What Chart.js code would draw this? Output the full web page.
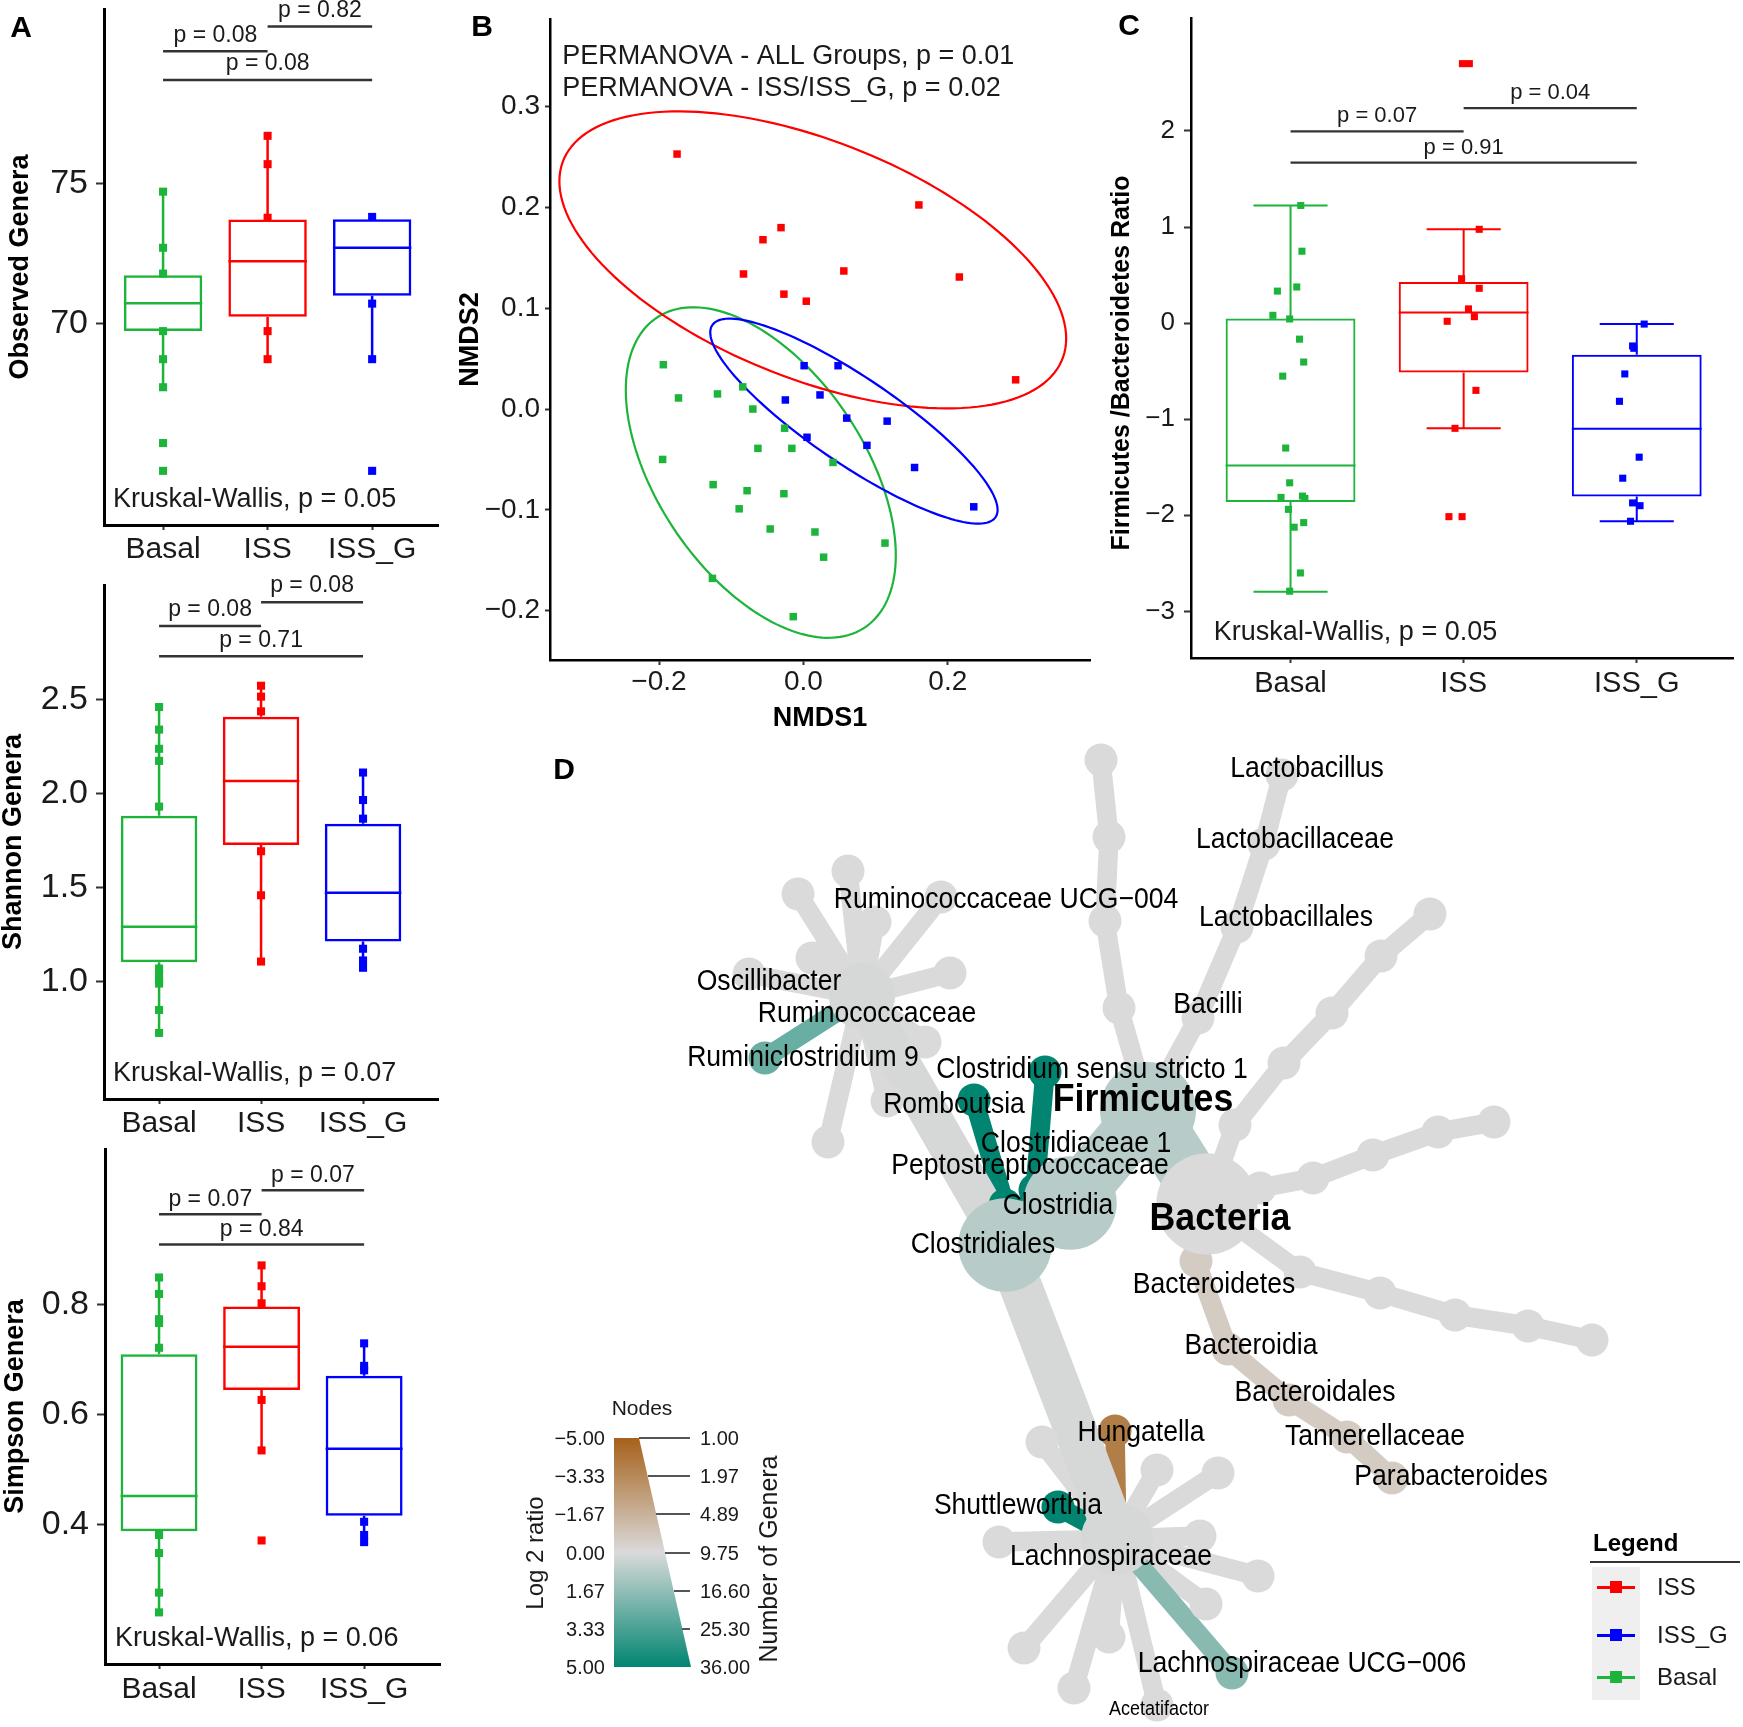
<!DOCTYPE html>
<html lang="en">
<head>
<meta charset="UTF-8" />
<meta name="viewport" content="width=device-width, initial-scale=1.0"/>
<title>Gut microbiota – diversity, NMDS, F/B ratio and heat tree</title>
<script src="https://cdn.jsdelivr.net/npm/chart.js"></script>
<style>
  body {
    margin: 0;
    width: 1743px;
    height: 1727px;
    position: relative;
    overflow: hidden;
    background: #fff;
    font-family: "Liberation Sans", Arial, sans-serif;
    color: #1a1a1a;
  }
  canvas { position: absolute; }
  .tag { position: absolute; font-size: 30px; font-weight: bold; color: #000; transform: translate(-50%, -50%); }
  .txt { position: absolute; white-space: nowrap; line-height: 1; }
  .rot { transform: translate(-50%, -50%) rotate(-90deg); }
</style>
</head>
<body>
  <canvas id="obs" width="450" height="570" style="left:0;top:0"></canvas>
  <canvas id="shannon" width="450" height="570" style="left:0;top:570px"></canvas>
  <canvas id="simpson" width="450" height="587" style="left:0;top:1140px"></canvas>
  <canvas id="nmds" width="650" height="740" style="left:450px;top:0"></canvas>
  <canvas id="ratio" width="643" height="720" style="left:1100px;top:0"></canvas>
  <canvas id="tree" width="1213" height="987" style="left:530px;top:740px"></canvas>

  <div class="tag" style="left:21px;top:27px">A</div>
  <div class="tag" style="left:482px;top:26px">B</div>
  <div class="tag" style="left:1129px;top:25px">C</div>
  <div class="tag" style="left:564px;top:769px">D</div>

  <div class="txt rot" style="left:1120px;top:363px;font-size:25px;font-weight:bold;color:#000">Firmicutes /Bacteroidetes Ratio</div>

  <div id="legends"></div>

<script>
// ---- shared ----
const groups = ['Basal', 'ISS', 'ISS_G'];
const groupColors = ['#1cb43a', '#ff0000', '#0000ff'];
const sigPairs = [[1, 2], [2, 3], [1, 3]];

// ---- A: Observed genera ----
const obsBasal = [74.71, 72.71, 71.79, 69.74, 68.74, 67.74, 65.75, 64.76];
const obsISS = [76.70, 75.69, 73.78, 69.74, 68.74];
const obsISSG = [73.81, 70.72, 68.74, 64.76];
const obsQ1 = [69.74, 70.25, 71.00];
const obsMed = [70.73, 72.23, 72.71];
const obsQ3 = [71.73, 73.72, 73.73];
const obsLo = [67.74, 68.74, 68.74];
const obsHi = [74.71, 76.70, 73.81];
const obsSigY = [79.71, 80.60, 78.69];
const obsSigP = ['p = 0.08', 'p = 0.82', 'p = 0.08'];
const obsKW = 'Kruskal-Wallis, p = 0.05';
const obsTicks = [70, 75];
const obsTickLabels = ['70', '75'];

// ---- A: Shannon ----
const shanBasal = [2.459, 2.339, 2.237, 2.173, 1.930, 1.07, 1.04, 1.01, 0.99, 0.850, 0.728];
const shanISS = [2.572, 2.514, 2.436, 1.693, 1.459, 1.107];
const shanISSG = [2.111, 1.965, 1.866, 1.175, 1.113, 1.074];
const shanQ1 = [1.103, 1.726, 1.214];
const shanMed = [1.292, 2.066, 1.473];
const shanQ3 = [1.881, 2.407, 1.839];
const shanLo = [0.728, 1.107, 1.074];
const shanHi = [2.459, 2.572, 2.111];
const shanSigY = [2.889, 3.016, 2.728];
const shanSigP = ['p = 0.08', 'p = 0.08', 'p = 0.71'];
const shanKW = 'Kruskal-Wallis, p = 0.07';
const shanTicks = [1.0, 1.5, 2.0, 2.5];
const shanTickLabels = ['1.0', '1.5', '2.0', '2.5'];

// ---- A: Simpson ----
const simpBasal = [0.850, 0.820, 0.774, 0.767, 0.722, 0.381, 0.348, 0.276, 0.240];
const simpISS = [0.872, 0.834, 0.803, 0.627, 0.535, 0.371];
const simpISSG = [0.730, 0.689, 0.681, 0.405, 0.381, 0.368];
const simpQ1 = [0.388, 0.645, 0.416];
const simpMed = [0.452, 0.724, 0.538];
const simpQ3 = [0.710, 0.797, 0.671];
const simpLo = [0.240, 0.535, 0.368];
const simpHi = [0.850, 0.872, 0.730];
const simpSigY = [0.965, 1.009, 0.910];
const simpSigP = ['p = 0.07', 'p = 0.07', 'p = 0.84'];
const simpKW = 'Kruskal-Wallis, p = 0.06';
const simpTicks = [0.4, 0.6, 0.8];
const simpTickLabels = ['0.4', '0.6', '0.8'];

// ---- B: NMDS ----
const nmdsBasalX = [-0.194, -0.173, -0.119, -0.084, -0.070, -0.026, -0.063, -0.016, 0.041, -0.195, -0.125, -0.078, -0.027, -0.089, -0.046, 0.016, 0.028, 0.113, -0.126, -0.014];
const nmdsBasalY = [0.044, 0.011, 0.015, 0.022, 0.000, -0.019, -0.039, -0.039, -0.053, -0.050, -0.075, -0.081, -0.084, -0.099, -0.119, -0.122, -0.147, -0.133, -0.168, -0.206];
const nmdsISSX = [-0.175, 0.160, -0.031, -0.056, -0.083, 0.056, 0.216, -0.027, 0.004, 0.294];
const nmdsISSY = [0.253, 0.2025, 0.180, 0.168, 0.134, 0.137, 0.131, 0.114, 0.107, 0.029];
const nmdsISSGX = [0.001, 0.048, -0.025, 0.023, 0.060, 0.116, 0.005, 0.088, 0.154, 0.236];
const nmdsISSGY = [0.043, 0.043, 0.009, 0.014, -0.009, -0.012, -0.028, -0.036, -0.058, -0.097];
// 95% ellipses: centre and two conjugate semi-diameters (Basal, ISS, ISS_G)
const ellCx = [-0.059, 0.013, 0.070];
const ellCy = [-0.063, 0.148, -0.012];
const ellUx = [0.187, 0.351, 0.199];
const ellUy = [-0.082, -0.078, -0.088];
const ellVx = [0, 0, 0];
const ellVy = [0.142, 0.125, 0.051];
const permanovaText = ['PERMANOVA - ALL Groups, p = 0.01', 'PERMANOVA - ISS/ISS_G, p = 0.02'];
const nmdsXTicks = [-0.2, 0, 0.2];
const nmdsXTickLabels = ['\u22120.2', '0.0', '0.2'];
const nmdsYTicks = [-0.2, -0.1, 0, 0.1, 0.2, 0.3];
const nmdsYTickLabels = ['\u22120.2', '\u22120.1', '0.0', '0.1', '0.2', '0.3'];

// ---- C: Firmicutes / Bacteroidetes ----
const fbBasal = [1.224, 0.748, 0.333, 0.376, 0.081, 0.043, -0.167, -0.405, -0.552, -1.300, -1.662, -1.814, -1.800, -1.824, -1.938, -2.124, -2.076, -2.600, -2.790];
const fbBasalJit = [0.059, 0.066, -0.076, 0.036, -0.102, -0.005, 0.052, 0.076, -0.045, -0.028, -0.005, -0.055, 0.069, 0.083, -0.012, 0.021, 0.076, 0.057, -0.005];
const fbISS = [0.976, 0.462, 0.362, 0.148, 0.067, 0.019, -0.700, -1.095, -2.014, -2.014, 2.700, 2.700];
const fbISSJit = [0.090, -0.012, 0.090, 0.028, 0.062, -0.095, 0.071, -0.050, -0.085, -0.009, -0.007, 0.033];
const fbISSG = [-0.010, -0.238, -0.262, -0.529, -0.814, -1.395, -1.614, -1.871, -1.900, -2.062];
const fbISSGJit = [0.043, -0.024, -0.017, -0.069, -0.100, 0.014, -0.081, -0.024, 0.019, -0.036];
const fbQ1 = [-1.862, -0.514, -1.805];
const fbMed = [-1.481, 0.110, -1.100];
const fbQ3 = [0.048, 0.429, -0.329];
const fbLo = [-2.795, -1.095, -2.062];
const fbHi = [1.224, 0.976, -0.010];
const fbSigY = [1.995, 2.238, 1.671];
const fbSigP = ['p = 0.07', 'p = 0.04', 'p = 0.91'];
const fbKW = 'Kruskal-Wallis, p = 0.05';
const fbTicks = [-3, -2, -1, 0, 1, 2];
const fbTickLabels = ['\u22123', '\u22122', '\u22121', '0', '1', '2'];

// ---- D: heat tree ----
const treeParent = [-1, 0, 1, 2, 3, 4, 4, 4, 4, 4, 4, 4, 4, 4, 4, 4, 3, 16, 3, 18, 3,
  20, 20, 20, 20, 20, 20, 20, 20, 20, 20, 20, 20, 20, 20,
  1, 35, 36, 37, 1, 39, 40, 41, 0, 43, 44, 45, 46, 0, 48, 49, 50, 51, 0, 53, 54, 55, 56, 0, 58, 59, 60, 61];
const treeLog2 = [0, 0.8, 0.8, 0.8, 0.1, 0, 0, 0, 0, 0, 0, 0, 0, 2.6, 0, 0, 5, 5, 5, 5, 0.1,
  0, -3.8, 0, 0, 0, 0, 0, 1.9, 0, 0, 0, 0, 0, 5,
  0, 0, 0, 0, 0, 0, 0, 0, 0, 0, 0, 0, 0, 0, 0, 0, 0, 0, 0, 0, 0, 0, 0, -0.6, -0.6, -0.6, -0.6, -0.6];
const ratioTicks = ['\u22125.00', '\u22123.33', '\u22121.67', '0.00', '1.67', '3.33', '5.00'];
const generaTicks = ['1.00', '1.97', '4.89', '9.75', '16.60', '25.30', '36.00'];
const groupLegend = ['ISS', 'ISS_G', 'Basal'];
const groupLegendColors = ['#ff0000', '#0000ff', '#1cb43a'];

// tree layout (layout units)
const treeX = [120.7, 114.8, 107.0, 100.5, 86.2, 74.9, 79.8, 84.8, 94.1, 87.5, 81.2, 95.0, 92.5, 76.5, 88.7, 82.8,
  100.5, 97.4, 103.5, 104.5, 111.7,
  104.2, 111.5, 115.7, 121.8, 120.0, 125.8, 120.6, 123.2, 115.7, 110.9, 107.4, 102.4, 99.9, 105.8,
  119.8, 123.7, 126.4, 128.2, 111.9, 110.5, 110.9, 110.1,
  123.5, 128.4, 133.2, 138.1, 143.0, 126.0, 131.3, 137.3, 143.8, 149.4,
  130.0, 138.0, 145.5, 152.8, 159.2, 119.6, 122.8, 128.9, 134.7, 139.2];
const treeY = [120.4, 111.0, 120.3, 124.5, 99.6, 97.4, 89.4, 87.1, 89.7, 92.2, 95.8, 97.3, 104.2, 105.8, 110.1, 114.2,
  120.5, 110.0, 119.0, 107.2, 153.9,
  144.2, 143.1, 147.0, 147.3, 153.6, 157.6, 160.4, 167.3, 170.5, 163.7, 168.8, 164.8, 154.2, 150.7,
  101.8, 92.7, 84.4, 77.5, 100.8, 92.1, 83.7, 76.0,
  112.5, 106.3, 101.3, 95.6, 91.4, 118.8, 117.8, 115.5, 113.2, 112.2,
  127.2, 129.3, 131.5, 132.6, 134.0, 126.1, 134.9, 140.0, 143.7, 147.8];
const treeLabelText = ['Lactobacillus', 'Lactobacillaceae', 'Ruminococcaceae UCG\u2212004', 'Lactobacillales',
  'Oscillibacter', 'Ruminococcaceae', 'Bacilli', 'Ruminiclostridium 9', 'Clostridium sensu stricto 1',
  'Romboutsia', 'Firmicutes', 'Clostridiaceae 1', 'Peptostreptococcaceae', 'Clostridia', 'Bacteria',
  'Clostridiales', 'Bacteroidetes', 'Bacteroidia', 'Bacteroidales', 'Hungatella', 'Tannerellaceae',
  'Parabacteroides', 'Shuttleworthia', 'Lachnospiraceae', 'Lachnospiraceae UCG\u2212006', 'Acetatifactor'];
const treeLabelX = [130.7, 129.5, 100.6, 128.6, 76.9, 86.7, 120.8, 80.3, 109.2, 95.4, 114.3, 107.6, 103.0, 105.8, 122.0,
  98.3, 121.4, 125.1, 131.5, 114.1, 137.5, 145.1, 101.8, 111.1, 130.2, 115.9];
const treeLabelY = [76.9, 84.0, 90.0, 91.8, 98.2, 101.4, 100.5, 105.8, 107.0, 110.5, 110.1, 114.4, 116.6, 120.6, 122.0,
  124.5, 128.5, 134.6, 139.3, 143.3, 143.7, 147.7, 150.6, 155.7, 166.4, 170.9];
const treeLabelKind = ['n', 'n', 'n', 'n', 'n', 'n', 'n', 'n', 'n', 'n', 'b', 'n', 'n', 'n', 'b',
  'n', 'n', 'n', 'n', 'n', 'n', 'n', 'n', 'n', 'n', 's'];

const FONT = '"Liberation Sans", Arial, sans-serif';
const INK = '#1a1a1a';
Chart.defaults.font.family = FONT;
Chart.defaults.color = INK;

// keep the plot area where the layout puts it (no extra room for edge tick labels)
function fixY(width) {
  return s => { s.width = width; s.paddingTop = 0; s.paddingBottom = 0; };
}
function fixX(height) {
  return s => { s.height = height; s.paddingLeft = 0; s.paddingRight = 0; };
}

function sigPlugin(o) {
  return {
    id: 'sig',
    afterDatasetsDraw(chart) {
      const { ctx, scales: { x, y } } = chart;
      ctx.save();
      ctx.strokeStyle = '#333';
      ctx.lineWidth = o.sigW;
      ctx.fillStyle = INK;
      ctx.font = o.pFont + 'px ' + FONT;
      ctx.textAlign = 'center';
      ctx.textBaseline = 'middle';
      sigPairs.forEach(([a, b], i) => {
        const py = y.getPixelForValue(o.sigY[i]);
        ctx.beginPath();
        ctx.moveTo(x.getPixelForValue(a), py);
        ctx.lineTo(x.getPixelForValue(b), py);
        ctx.stroke();
        ctx.fillText(o.sigP[i], x.getPixelForValue((a + b) / 2), py - o.pGap);
      });
      ctx.font = o.kwFont + 'px ' + FONT;
      ctx.textAlign = 'left';
      ctx.fillText(o.kw, x.getPixelForValue(o.kwX), y.getPixelForValue(o.kwY));
      ctx.restore();
    }
  };
}

function boxChart(id, o) {
  const datasets = [{
    type: 'bar', order: 3,
    data: groups.map((g, i) => ({ x: i + 1, y: [o.q1[i], o.q3[i]] })),
    backgroundColor: 'rgba(255,255,255,0)',
    borderColor: groupColors,
    borderWidth: o.lw,
    borderSkipped: false,
    barPercentage: 0.75,
    categoryPercentage: 1
  }];
  groups.forEach((g, i) => {
    const x = i + 1;
    const w = [{ x, y: o.lo[i] }, { x, y: o.q1[i] }, { x, y: null }, { x, y: o.q3[i] }, { x, y: o.hi[i] }];
    if (o.cap) {
      w.push({ x, y: null }, { x: x - o.cap, y: o.lo[i] }, { x: x + o.cap, y: o.lo[i] },
             { x, y: null }, { x: x - o.cap, y: o.hi[i] }, { x: x + o.cap, y: o.hi[i] });
    }
    datasets.push({ type: 'line', order: 2, data: w, borderColor: groupColors[i], borderWidth: o.lw, pointRadius: 0, spanGaps: false, fill: false });
    datasets.push({ type: 'line', order: 2, data: [{ x: x - 0.375, y: o.med[i] }, { x: x + 0.375, y: o.med[i] }],
      borderColor: groupColors[i], borderWidth: o.lw, pointRadius: 0, fill: false });
    datasets.push({ type: 'scatter', order: 1,
      data: o.points[i].map((v, k) => ({ x: x + (o.jitter ? o.jitter[i][k] : 0), y: v })),
      pointStyle: 'rect', pointRadius: o.pr, backgroundColor: groupColors[i], borderWidth: 0 });
  });

  const yScale = {
    type: 'linear', min: o.yMin, max: o.yMax, beginAtZero: false,
    afterBuildTicks: s => { s.ticks = o.yTicks.map(v => ({ value: v })); },
    afterFit: fixY(o.yW),
    ticks: { callback: (v, i) => o.yLabels[i], font: { size: o.yFont }, color: INK, padding: o.yPad },
    grid: { drawOnChartArea: false, tickLength: o.yTickLen, tickWidth: 2, tickColor: '#333' },
    border: { color: '#000', width: o.axisW }
  };
  if (o.yTitle) {
    yScale.title = { display: true, text: o.yTitle, color: '#000',
      font: { size: 27, weight: 'bold', lineHeight: 1 }, padding: { top: o.titlePad, bottom: 0 } };
  }

  new Chart(document.getElementById(id), {
    type: 'bar',
    data: { datasets },
    options: {
      responsive: false, animation: false, events: [],
      layout: { padding: { top: o.padTop, right: o.padRight, left: 0, bottom: 0 }, autoPadding: false },
      plugins: { legend: { display: false }, tooltip: { enabled: false } },
      scales: {
        x: {
          type: 'linear', min: o.xMin, max: o.xMax, offset: false,
          afterBuildTicks: s => { s.ticks = groups.map((g, i) => ({ value: i + 1 })); },
          afterFit: fixX(o.xH),
          ticks: { callback: (v, i) => groups[i], font: { size: o.xFont }, color: INK, padding: o.xPad, maxRotation: 0, autoSkip: false },
          grid: { drawOnChartArea: false, tickLength: 5, tickWidth: 2, tickColor: '#333', offset: false },
          border: { color: '#000', width: o.axisW }
        },
        y: yScale
      }
    },
    plugins: [sigPlugin(o)]
  });
}

boxChart('obs', {
  points: [obsBasal, obsISS, obsISSG], q1: obsQ1, med: obsMed, q3: obsQ3, lo: obsLo, hi: obsHi,
  sigY: obsSigY, sigP: obsSigP, kw: obsKW, kwX: 0.52, kwY: 63.74,
  yTicks: obsTicks, yLabels: obsTickLabels, yTitle: 'Observed Genera',
  xMin: 0.435, xMax: 3.63, yMin: 62.83, yMax: 81.22,
  padTop: 9, padRight: 12, xH: 45, yW: 104, titlePad: 7.5,
  lw: 2.5, axisW: 3, pr: 5.7, cap: 0, yFont: 34, xFont: 30, pFont: 23, kwFont: 27, pGap: 16, sigW: 2.5,
  yTickLen: 8, yPad: 8, xPad: 2
});

boxChart('shannon', {
  points: [shanBasal, shanISS, shanISSG], q1: shanQ1, med: shanMed, q3: shanQ3, lo: shanLo, hi: shanHi,
  sigY: shanSigY, sigP: shanSigP, kw: shanKW, kwX: 0.548, kwY: 0.51,
  yTicks: shanTicks, yLabels: shanTickLabels, yTitle: 'Shannon Genera',
  xMin: 0.46, xMax: 3.735, yMin: 0.377, yMax: 3.107,
  padTop: 15, padRight: 12, xH: 41, yW: 104, titlePad: 0,
  lw: 2.5, axisW: 3, pr: 5.7, cap: 0, yFont: 34, xFont: 30, pFont: 23, kwFont: 27, pGap: 16, sigW: 2.5,
  yTickLen: 8, yPad: 8, xPad: 2
});

boxChart('simpson', {
  points: [simpBasal, simpISS, simpISSG], q1: simpQ1, med: simpMed, q3: simpQ3, lo: simpLo, hi: simpHi,
  sigY: simpSigY, sigP: simpSigP, kw: simpKW, kwX: 0.571, kwY: 0.192,
  yTicks: simpTicks, yLabels: simpTickLabels, yTitle: 'Simpson Genera',
  xMin: 0.473, xMax: 3.74, yMin: 0.146, yMax: 1.084,
  padTop: 9, padRight: 10, xH: 63, yW: 105, titlePad: 2.5,
  lw: 2.5, axisW: 3, pr: 5.7, cap: 0, yFont: 34, xFont: 30, pFont: 23, kwFont: 27, pGap: 15, sigW: 2.5,
  yTickLen: 8, yPad: 8, xPad: 3
});

boxChart('ratio', {
  points: [fbBasal, fbISS, fbISSG], jitter: [fbBasalJit, fbISSJit, fbISSGJit],
  q1: fbQ1, med: fbMed, q3: fbQ3, lo: fbLo, hi: fbHi,
  sigY: fbSigY, sigP: fbSigP, kw: fbKW, kwX: 0.557, kwY: -3.224,
  yTicks: fbTicks, yLabels: fbTickLabels, yTitle: null,
  xMin: 0.425, xMax: 3.556, yMin: -3.485, yMax: 3.175,
  padTop: 18, padRight: 10, xH: 62, yW: 91, titlePad: 0,
  lw: 2, axisW: 2.5, pr: 5, cap: 0.214, yFont: 26, xFont: 29, pFont: 22, kwFont: 27, pGap: 15, sigW: 2.2,
  yTickLen: 7, yPad: 9, xPad: 4
});

// ---- B ----
const ellipsePlugin = {
  id: 'ellipses',
  beforeDatasetsDraw(chart) {
    const { ctx, scales: { x, y } } = chart;
    ctx.save();
    ctx.lineWidth = 2.2;
    groups.forEach((g, i) => {
      ctx.strokeStyle = groupColors[i];
      ctx.beginPath();
      for (let k = 0; k <= 160; k++) {
        const t = k / 160 * Math.PI * 2;
        const px = x.getPixelForValue(ellCx[i] + ellUx[i] * Math.cos(t) + ellVx[i] * Math.sin(t));
        const py = y.getPixelForValue(ellCy[i] + ellUy[i] * Math.cos(t) + ellVy[i] * Math.sin(t));
        if (k) ctx.lineTo(px, py); else ctx.moveTo(px, py);
      }
      ctx.closePath();
      ctx.stroke();
    });
    ctx.restore();
  }
};
const permanovaPlugin = {
  id: 'permanova',
  afterDatasetsDraw(chart) {
    const { ctx, scales: { x, y } } = chart;
    ctx.save();
    ctx.fillStyle = INK;
    ctx.font = '27px ' + FONT;
    ctx.textAlign = 'left';
    ctx.textBaseline = 'middle';
    const rows = [0.350, 0.318];
    permanovaText.forEach((t, i) => ctx.fillText(t, x.getPixelForValue(-0.334), y.getPixelForValue(rows[i])));
    ctx.restore();
  }
};
const zip = (xs, ys) => xs.map((v, i) => ({ x: v, y: ys[i] }));
new Chart(document.getElementById('nmds'), {
  type: 'scatter',
  data: {
    datasets: [
      { data: zip(nmdsBasalX, nmdsBasalY), backgroundColor: groupColors[0] },
      { data: zip(nmdsISSX, nmdsISSY), backgroundColor: groupColors[1] },
      { data: zip(nmdsISSGX, nmdsISSGY), backgroundColor: groupColors[2] }
    ].map(d => Object.assign(d, { pointStyle: 'rect', pointRadius: 5.3, borderWidth: 0 }))
  },
  options: {
    responsive: false, animation: false, events: [],
    layout: { padding: { top: 19, right: 10, left: 0, bottom: 0 }, autoPadding: false },
    plugins: { legend: { display: false }, tooltip: { enabled: false } },
    scales: {
      x: {
        type: 'linear', min: -0.351, max: 0.397,
        afterBuildTicks: s => { s.ticks = nmdsXTicks.map(v => ({ value: v })); },
        afterFit: fixX(80),
        ticks: { callback: (v, i) => nmdsXTickLabels[i], font: { size: 28 }, color: INK, padding: 0, maxRotation: 0, autoSkip: false },
        grid: { drawOnChartArea: false, tickLength: 5, tickWidth: 2, tickColor: '#333' },
        border: { color: '#000', width: 2.5 },
        title: { display: true, text: 'NMDS1', color: '#000', font: { size: 27, weight: 'bold', lineHeight: 1 }, padding: { top: 0, bottom: 7.5 } }
      },
      y: {
        type: 'linear', min: -0.249, max: 0.387,
        afterBuildTicks: s => { s.ticks = nmdsYTicks.map(v => ({ value: v })); },
        afterFit: fixY(100),
        ticks: { callback: (v, i) => nmdsYTickLabels[i], font: { size: 28 }, color: INK, padding: 5 },
        grid: { drawOnChartArea: false, tickLength: 5, tickWidth: 2, tickColor: '#333' },
        border: { color: '#000', width: 2.5 },
        title: { display: true, text: 'NMDS2', color: '#000', font: { size: 27, weight: 'bold', lineHeight: 1 }, padding: { top: 7.5, bottom: 0 } }
      }
    }
  },
  plugins: [ellipsePlugin, permanovaPlugin]
});

// ---- D ----
function ratioColor(v) {
  const t = Math.max(-1, Math.min(1, v / 5));
  const mid = [218, 218, 218];
  const end = t < 0 ? [166, 97, 26] : [1, 133, 113];
  const a = Math.abs(t);
  const c = mid.map((m, k) => Math.round(m + (end[k] - m) * a));
  return 'rgb(' + c.join(',') + ')';
}
// number of genera below each node = leaves in its subtree
const nGenera = treeParent.map(() => 0);
treeParent.forEach((p, i) => {
  if (!treeParent.includes(i)) {
    for (let k = i; k >= 0; k = treeParent[k]) nGenera[k]++;
  }
});
const nodeRadius = nGenera.map(n => 16.5 + 36 * (Math.sqrt(n) - 1) / 5);
const nodeColor = treeLog2.map(ratioColor);

const edgeSets = [];
treeParent.forEach((p, i) => {
  if (p < 0) return;
  edgeSets.push({
    type: 'line',
    order: treeLog2[i] === 0 ? 3 : 2,
    data: [{ x: treeX[p], y: treeY[p] }, { x: treeX[i], y: treeY[i] }],
    borderColor: nodeColor[i],
    borderWidth: 1.18 * nodeRadius[i],
    borderCapStyle: 'round',
    pointRadius: 0,
    fill: false,
    clip: false
  });
});
const nodeOrder = treeX.map((v, i) => i).sort((a, b) => nodeRadius[a] - nodeRadius[b]);
const nodeSet = {
  type: 'scatter', order: 1,
  data: nodeOrder.map(i => ({ x: treeX[i], y: treeY[i] })),
  pointRadius: nodeOrder.map(i => nodeRadius[i]),
  backgroundColor: nodeOrder.map(i => nodeColor[i]),
  borderWidth: 0,
  clip: false
};
const treeLabelPlugin = {
  id: 'treeLabels',
  afterDatasetsDraw(chart) {
    const { ctx, scales: { x, y } } = chart;
    ctx.save();
    ctx.fillStyle = '#000';
    ctx.textAlign = 'center';
    ctx.textBaseline = 'middle';
    treeLabelText.forEach((t, i) => {
      const kind = treeLabelKind[i];
      ctx.save();
      ctx.translate(x.getPixelForValue(treeLabelX[i]), y.getPixelForValue(treeLabelY[i]));
      if (kind === 'b') { ctx.scale(0.94, 1); ctx.font = 'bold 38px ' + FONT; }
      else if (kind === 's') { ctx.scale(0.9, 1); ctx.font = '20px ' + FONT; }
      else { ctx.scale(0.9, 1); ctx.font = '29.5px ' + FONT; }
      ctx.fillText(t, 0, 0);
      ctx.restore();
    });
    ctx.restore();
  }
};
new Chart(document.getElementById('tree'), {
  type: 'scatter',
  data: { datasets: [...edgeSets, nodeSet] },
  options: {
    responsive: false, animation: false, events: [],
    layout: { padding: 0, autoPadding: false },
    plugins: { legend: { display: false }, tooltip: { enabled: false } },
    scales: {
      x: { type: 'linear', display: false, min: 53, max: 174.3 },
      y: { type: 'linear', display: false, min: 74, max: 172.7, reverse: true }
    }
  },
  plugins: [treeLabelPlugin]
});

// ---- legends (HTML) ----
const host = document.getElementById('legends');
function addBox(css) {
  const d = document.createElement('div');
  d.style.cssText = 'position:absolute;' + css;
  host.appendChild(d);
  return d;
}
function addText(text, left, top, css, shift) {
  const d = addBox('left:' + left + 'px;top:' + top + 'px;white-space:nowrap;line-height:1;' + css);
  d.style.transform = shift;
  d.textContent = text;
  return d;
}
// colour / size scale
const gTop = 1438, gBottom = 1667, gLeft = 614, gTopRight = 639, gBottomRight = 691, gTickEnd = 690;
addBox('left:' + gLeft + 'px;top:' + gTop + 'px;width:' + (gBottomRight - gLeft) + 'px;height:' + (gBottom - gTop) + 'px;' +
  'background:linear-gradient(to bottom,#a6611a,#dadada 50%,#018571);' +
  'clip-path:polygon(0 0,' + (gTopRight - gLeft) + 'px 0,100% 100%,0 100%)');
ratioTicks.forEach((label, i) => {
  const yy = gTop + (gBottom - gTop) * i / (ratioTicks.length - 1);
  addText(label, 605, yy, 'font-size:20px;', 'translate(-100%,-50%)');
  addText(generaTicks[i], 700, yy, 'font-size:20px;', 'translate(0,-50%)');
  const x0 = gTopRight + (gBottomRight - gTopRight) * i / (ratioTicks.length - 1);
  if (gTickEnd - x0 > 2) addBox('left:' + x0 + 'px;top:' + (yy - 1) + 'px;width:' + (gTickEnd - x0) + 'px;height:2px;background:#555');
});
addText('Nodes', 642, 1407, 'font-size:21px;', 'translate(-50%,-50%)');
addText('Log 2 ratio', 535, 1553, 'font-size:24px;', 'translate(-50%,-50%) rotate(-90deg)');
addText('Number of Genera', 768, 1559, 'font-size:25px;', 'translate(-50%,-50%) rotate(-90deg)');

// group legend
addText('Legend', 1593, 1543, 'font-size:24px;font-weight:bold;color:#000;', 'translate(0,-50%)');
addBox('left:1590px;top:1561px;width:150px;height:2px;background:#333');
addBox('left:1592px;top:1567px;width:48px;height:133px;background:#efefef');
const legendRows = [1587, 1635, 1677];
groupLegend.forEach((g, i) => {
  const yy = legendRows[i];
  addBox('left:1597px;top:' + (yy - 1.5) + 'px;width:38px;height:3px;background:' + groupLegendColors[i]);
  addBox('left:1610px;top:' + (yy - 6) + 'px;width:12px;height:12px;background:' + groupLegendColors[i]);
  addText(g, 1657, yy, 'font-size:24px;', 'translate(0,-50%)');
});
</script>
</body>
</html>
